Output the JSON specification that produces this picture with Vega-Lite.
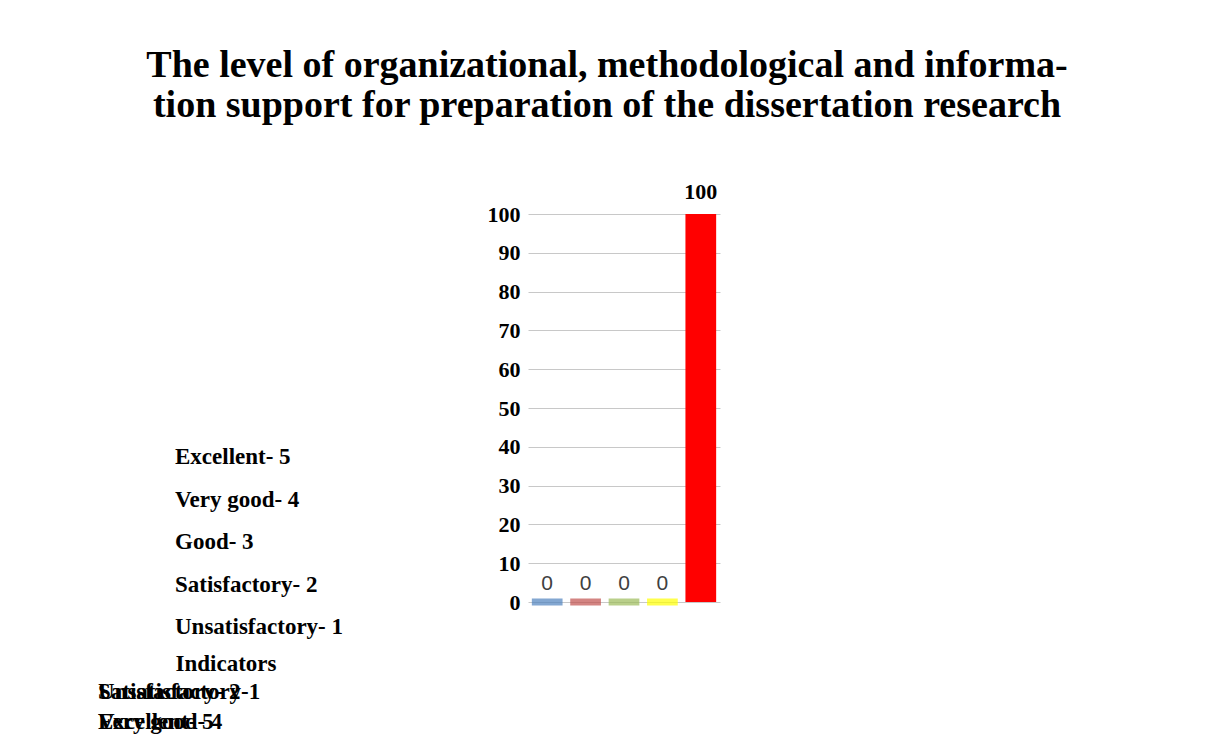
{
  "$schema": "https://vega.github.io/schema/vega-lite/v6.json",
  "background": "white",
  "padding": {"left": 98, "top": 47, "right": 5, "bottom": 5},
  "title": {
    "text": ["The level of organizational, methodological and informa-", "tion support for preparation of the dissertation research"],
    "font": "Liberation Serif", "fontSize": 38, "fontWeight": "bold", "color": "black",
    "lineHeight": 40, "anchor": "middle", "dx": 198, "offset": 56
  },
  "datasets": {
    "grades": [
      {"label": "Unsatisfactory- 1", "score": 1, "value": 0},
      {"label": "Satisfactory- 2", "score": 2, "value": 0},
      {"label": "Good- 3", "score": 3, "value": 0},
      {"label": "Very good- 4", "score": 4, "value": 0},
      {"label": "Excellent- 5", "score": 5, "value": 100}
    ],
    "overflow": [
      {"line": "1", "text": "Satisfactory- 2"},
      {"line": "1", "text": "Unsatisfactory-1"},
      {"line": "2", "text": "Excellent- 5"},
      {"line": "2", "text": "Very good- 4"}
    ]
  },
  "spacing": 2,
  "vconcat": [
    {
      "spacing": 12,
      "hconcat": [
        {
          "width": 300, "height": 434,
          "data": {"name": "grades"},
          "mark": {"type": "text", "align": "left", "baseline": "middle", "font": "Liberation Serif", "fontSize": 23, "fontWeight": "bold", "color": "black"},
          "encoding": {
            "y": {"field": "score", "type": "quantitative", "scale": {"domain": [0.506, 10.718], "nice": false, "zero": false}, "axis": null},
            "x": {"datum": 0, "type": "quantitative", "scale": {"domain": [0, 1]}, "axis": {"title": "Indicators", "labels": false, "ticks": false, "domain": false, "grid": false, "titleAnchor": "start", "titleFont": "Liberation Serif", "titleFontSize": 23, "titleFontWeight": "bold", "titleColor": "black", "titlePadding": 4}},
            "text": {"field": "label"}
          }
        },
        {
          "width": 192, "height": 388,
          "data": {"name": "grades"},
          "encoding": {
            "x": {"field": "label", "type": "nominal", "sort": ["Unsatisfactory- 1", "Satisfactory- 2", "Good- 3", "Very good- 4", "Excellent- 5"], "axis": null, "scale": {"paddingInner": 0.2, "paddingOuter": 0.1}},
            "y": {"field": "value", "type": "quantitative", "scale": {"domain": [0, 100]},
              "axis": {"values": [0, 10, 20, 30, 40, 50, 60, 70, 80, 90, 100], "labelOverlap": false, "title": null, "domain": false, "ticks": false, "labelFont": "Liberation Serif", "labelFontSize": 22, "labelFontWeight": "bold", "labelColor": "black", "labelPadding": 8, "gridColor": "#c8c8c8"}}
          },
          "layer": [
            {
              "mark": {"type": "bar"},
              "encoding": {
                "color": {"field": "label", "type": "nominal", "legend": null,
                  "scale": {"domain": ["Unsatisfactory- 1", "Satisfactory- 2", "Good- 3", "Very good- 4", "Excellent- 5"], "range": ["#4f81bd", "#c0504d", "#9bbb59", "#ffff00", "#ff0000"]}}
              }
            },
            {
              "transform": [{"filter": "datum.value == 0"}],
              "mark": {"type": "tick", "thickness": 7, "orient": "horizontal"},
              "encoding": {
                "color": {"field": "label", "type": "nominal", "legend": null}
              }
            },
            {
              "transform": [{"filter": "datum.value == 0"}],
              "mark": {"type": "text", "baseline": "bottom", "dy": -8, "font": "Liberation Sans", "fontSize": 21, "color": "#404040"},
              "encoding": {"text": {"field": "value"}}
            },
            {
              "transform": [{"filter": "datum.value > 0"}],
              "mark": {"type": "text", "baseline": "bottom", "dy": -10, "font": "Liberation Serif", "fontSize": 22, "fontWeight": "bold", "color": "black"},
              "encoding": {"text": {"field": "value"}}
            }
          ]
        }
      ]
    },
    {
      "width": 300, "height": 60,
      "data": {"name": "overflow"},
      "mark": {"type": "text", "align": "left", "baseline": "middle", "dx": -77, "font": "Liberation Serif", "fontSize": 23, "fontWeight": "bold", "color": "black"},
      "encoding": {
        "y": {"field": "line", "type": "nominal", "axis": null, "scale": {"padding": 0.5}},
        "x": {"datum": 0, "type": "quantitative", "scale": {"domain": [0, 1]}, "axis": null},
        "text": {"field": "text"}
      }
    }
  ],
  "config": {"view": {"stroke": null}}
}
